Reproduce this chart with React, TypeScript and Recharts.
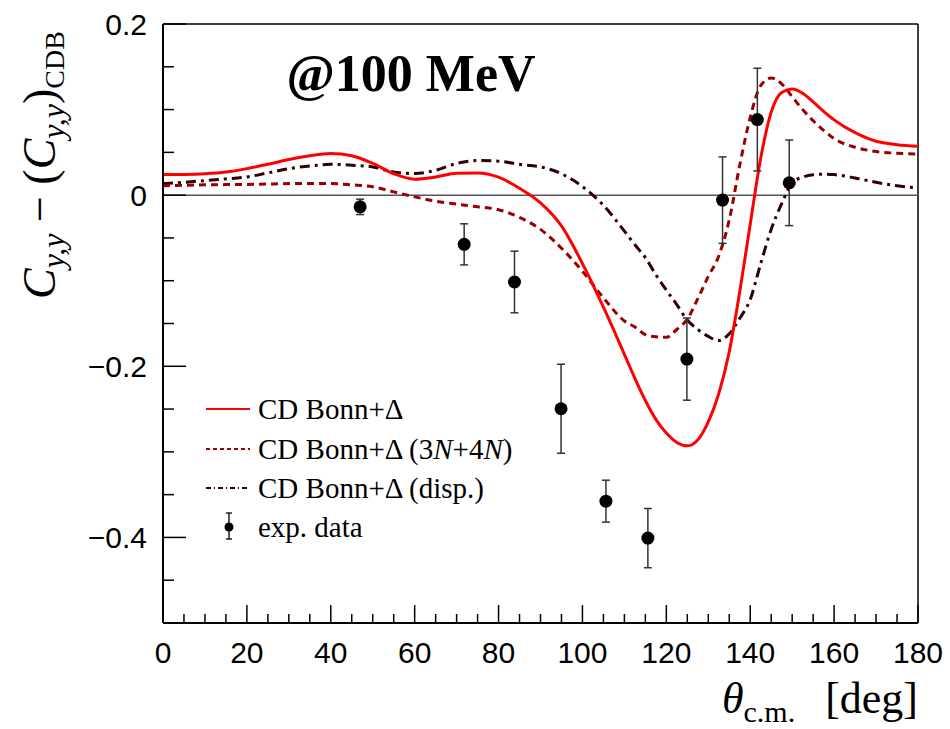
import React from "react";
import { ComposedChart, Line, Scatter, ErrorBar, XAxis, YAxis, ReferenceLine } from "recharts";

// theory curves, sampled along theta_c.m. [deg]
const ANGLES = [
  0, 5, 10, 15, 20, 25, 30, 35, 40, 45, 50, 55, 60, 65, 70, 75, 80, 85, 90, 95, 100, 105, 110,
  112.5, 115, 117.5, 120, 122.5, 125, 127.5, 130, 132.5, 135, 137.5, 140, 142.5, 145, 147.5, 150,
  152.5, 155, 157.5, 160, 165, 170, 175, 180,
];

const CD_BONN = [
  0.024, 0.0242, 0.025, 0.027, 0.031, 0.036, 0.0416, 0.046, 0.0486, 0.046, 0.037, 0.025, 0.0187,
  0.0213, 0.0257, 0.026, 0.021, 0.008, -0.009, -0.036, -0.08, -0.131, -0.186,
  -0.214, -0.24, -0.262, -0.278, -0.289, -0.293, -0.286, -0.265, -0.232, -0.183, -0.113, -0.034,
  0.043, 0.097, 0.12, 0.124, 0.119, 0.109, 0.098, 0.088, 0.073, 0.063, 0.059, 0.057,
];

const CD_BONN_3N4N = [
  0.011, 0.0115, 0.012, 0.0123, 0.0125, 0.013, 0.0135, 0.0137, 0.0136, 0.012, 0.0097, 0.0038,
  -0.002, -0.007, -0.0105, -0.0136, -0.017, -0.026, -0.04, -0.062, -0.089, -0.12, -0.147,
  -0.154, -0.163, -0.1655, -0.166, -0.157, -0.145, -0.121, -0.095, -0.071, -0.029, 0.035, 0.091,
  0.128, 0.137, 0.13, 0.115, 0.1, 0.087, 0.0758, 0.066, 0.056, 0.051, 0.049, 0.048,
];

const CD_BONN_DISP = [
  0.0136, 0.015, 0.017, 0.019, 0.0213, 0.026, 0.031, 0.034, 0.036, 0.035, 0.033, 0.027, 0.0253,
  0.029, 0.037, 0.0405, 0.0397, 0.036, 0.033, 0.025, 0.01, -0.012, -0.042,
  -0.058, -0.073, -0.093, -0.111, -0.128, -0.146, -0.157, -0.165, -0.17, -0.162, -0.144, -0.122,
  -0.08, -0.04, -0.01, 0.0145, 0.021, 0.0238, 0.0245, 0.024, 0.02, 0.015, 0.011, 0.0085,
];

// measured points
const EXP_ANGLES = [47.0, 71.8, 83.8, 94.9, 105.6, 115.6, 124.9, 133.4, 141.7, 149.3];
const EXP_VALUES = [-0.0137, -0.0575, -0.1015, -0.2496, -0.3576, -0.4008, -0.1916, -0.0058, 0.0883, 0.0144];
const EXP_ERRORS = [0.009, 0.024, 0.036, 0.052, 0.0245, 0.0346, 0.048, 0.0505, 0.06, 0.05];

const X_TICKS = [
  0, 5, 10, 15, 20, 25, 30, 35, 40, 45, 50, 55, 60, 65, 70, 75, 80, 85, 90, 95, 100, 105, 110, 115,
  120, 125, 130, 135, 140, 145, 150, 155, 160, 165, 170, 175, 180,
];
const Y_TICKS = [
  -0.5, -0.45, -0.4, -0.35, -0.3, -0.25, -0.2, -0.15, -0.1, -0.05, 0, 0.05, 0.1, 0.15, 0.2,
];

const W = 950;
const H = 729;
const PLOT = { left: 163, top: 24, right: 918, bottom: 623 };
const SERIF = "'Liberation Serif', 'DejaVu Serif', serif";
const SANS = "'Liberation Sans', Arial, sans-serif";

const RED = "#ff0000";
const DARK_RED = "#990000";
const BROWN = "#330000";

const curve = (vals: number[]) => ANGLES.map((x, i) => ({ x, y: vals[i] }));
const expData = EXP_ANGLES.map((x, i) => ({ x, y: EXP_VALUES[i], err: EXP_ERRORS[i] }));

function fmtY(v: number) {
  if (Math.abs(v) < 1e-9) return "0";
  return (v < 0 ? "\u2212" : "") + Math.abs(v).toFixed(1);
}

function XTick(props: any) {
  const { x, payload } = props;
  const v = payload.value;
  const major = Math.round(v) % 20 === 0;
  return (
    <g>
      <line x1={x} x2={x} y1={PLOT.bottom} y2={PLOT.bottom - (major ? 18 : 9)} stroke="#000" strokeWidth={1.5} />
      {major && (
        <text x={x} y={PLOT.bottom + 40} textAnchor="middle" fontFamily={SANS} fontSize={30} fill="#000">
          {v}
        </text>
      )}
    </g>
  );
}

function YTick(props: any) {
  const { y, payload } = props;
  const v = payload.value;
  const major = Math.round(v * 100) % 20 === 0;
  return (
    <g>
      <line x1={PLOT.left} x2={PLOT.left + (major ? 23 : 11)} y1={y} y2={y} stroke="#000" strokeWidth={1.5} />
      {major && (
        <text x={PLOT.left - 16} y={y + 11} textAnchor="end" fontFamily={SANS} fontSize={30} fill="#000">
          {fmtY(v)}
        </text>
      )}
    </g>
  );
}

function Overlay() {
  const rows = [409, 449, 488, 527];
  return (
    <svg width={W} height={H} style={{ position: "absolute", left: 0, top: 0, pointerEvents: "none" }}>
      <text x={411} y={91} textAnchor="middle" fontFamily={SERIF} fontWeight="bold" fontSize={52} fill="#000">
        @100 MeV
      </text>

      {/* legend */}
      <g fontFamily={SERIF} fontSize={29} fill="#000">
        <line x1={206} x2={250} y1={rows[0]} y2={rows[0]} stroke={RED} strokeWidth={2} />
        <text x={258} y={rows[0] + 10}>CD Bonn+Δ</text>
        <line x1={206} x2={250} y1={rows[1]} y2={rows[1]} stroke={DARK_RED} strokeWidth={2} strokeDasharray="4 3" />
        <text x={258} y={rows[1] + 10}>
          CD Bonn+Δ (3<tspan fontStyle="italic">N</tspan>+4<tspan fontStyle="italic">N</tspan>)
        </text>
        <line x1={206} x2={250} y1={rows[2]} y2={rows[2]} stroke={BROWN} strokeWidth={2} strokeDasharray="5 3 1 3" />
        <text x={258} y={rows[2] + 10}>CD Bonn+Δ (disp.)</text>
        <line x1={229} x2={229} y1={rows[3] - 14} y2={rows[3] + 12} stroke="#000" strokeWidth={1.3} />
        <line x1={226} x2={232} y1={rows[3] - 14} y2={rows[3] - 14} stroke="#000" strokeWidth={1.3} />
        <line x1={226} x2={232} y1={rows[3] + 12} y2={rows[3] + 12} stroke="#000" strokeWidth={1.3} />
        <circle cx={229} cy={rows[3]} r={4.5} fill="#000" />
        <text x={258} y={rows[3] + 10}>exp. data</text>
      </g>

      {/* x axis title */}
      <text x={918} y={713} textAnchor="end" fontFamily={SERIF} fontSize={44} fill="#000">
        <tspan fontStyle="italic">θ</tspan>
        <tspan fontSize={30} dy={9}>c.m.</tspan>
        <tspan dx={30} dy={-9}>[deg]</tspan>
      </text>

      {/* y axis title */}
      <text transform="translate(55,165) rotate(-90)" textAnchor="middle" fontFamily={SERIF} fontSize={46} fill="#000">
        <tspan fontStyle="italic">C</tspan>
        <tspan fontStyle="italic" fontSize={32} dy={9}>y,y</tspan>
        <tspan dy={-9}> − (</tspan>
        <tspan fontStyle="italic">C</tspan>
        <tspan fontStyle="italic" fontSize={32} dy={9}>y,y</tspan>
        <tspan dy={-9}>)</tspan>
        <tspan fontSize={28} dy={9}>CDB</tspan>
      </text>
    </svg>
  );
}

export default function App() {
  return (
    <div style={{ position: "absolute", left: 0, top: 0, width: W, height: H, background: "#fff" }}>
      <ComposedChart
        width={W}
        height={H}
        margin={{ top: PLOT.top, right: W - PLOT.right, bottom: H - PLOT.bottom - 1, left: PLOT.left - 1 }}
      >
        <XAxis
          dataKey="x"
          type="number"
          domain={[0, 180]}
          ticks={X_TICKS}
          interval={0}
          height={1}
          tickLine={false}
          axisLine={{ stroke: "#000", strokeWidth: 2 }}
          tick={<XTick />}
        />
        <YAxis
          type="number"
          domain={[-0.5, 0.2]}
          ticks={Y_TICKS}
          interval={0}
          width={1}
          allowDataOverflow
          tickLine={false}
          axisLine={{ stroke: "#000", strokeWidth: 2 }}
          tick={<YTick />}
        />
        <ReferenceLine y={0.2} stroke="#000" strokeWidth={1.5} />
        <ReferenceLine x={180} stroke="#000" strokeWidth={1.5} />
        <ReferenceLine y={0} stroke="#555" strokeWidth={1.5} />

        <Line data={curve(CD_BONN_DISP)} dataKey="y" type="monotone" stroke={BROWN} strokeWidth={3}
          strokeDasharray="10 5 3 5" dot={false} activeDot={false} isAnimationActive={false} />
        <Line data={curve(CD_BONN_3N4N)} dataKey="y" type="monotone" stroke={DARK_RED} strokeWidth={3}
          strokeDasharray="7 5" dot={false} activeDot={false} isAnimationActive={false} />
        <Line data={curve(CD_BONN)} dataKey="y" type="monotone" stroke={RED} strokeWidth={3}
          dot={false} activeDot={false} isAnimationActive={false} />

        <Scatter
          data={expData}
          dataKey="y"
          isAnimationActive={false}
          shape={(p: any) => <circle cx={p.cx} cy={p.cy} r={6.5} fill="#000" />}
        >
          <ErrorBar dataKey="err" direction="y" width={4} stroke="#333" strokeWidth={1.5} />
        </Scatter>
      </ComposedChart>
      <Overlay />
    </div>
  );
}
